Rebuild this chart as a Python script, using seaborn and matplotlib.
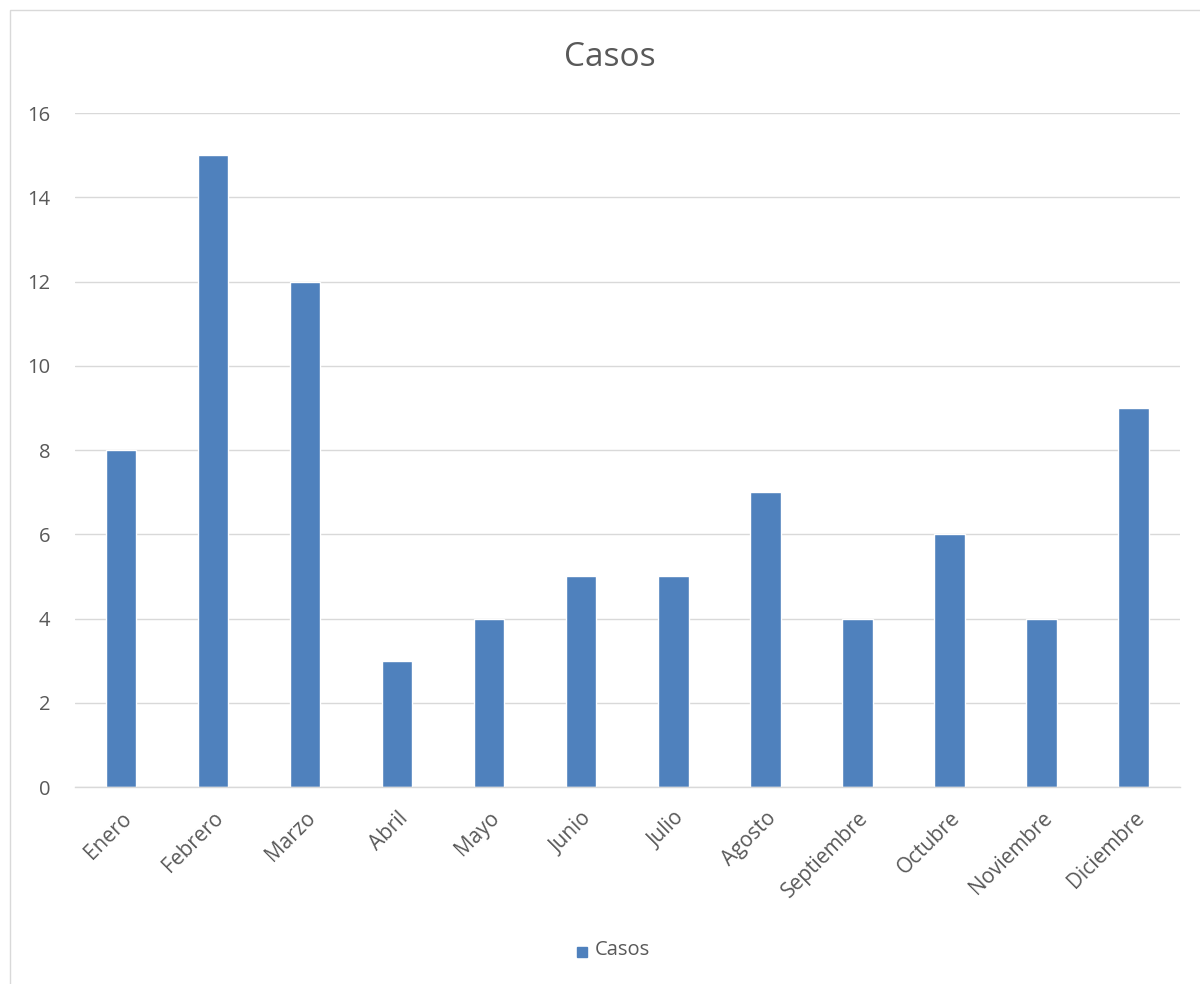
import matplotlib
matplotlib.use("Agg")
import matplotlib.pyplot as plt
import seaborn as sns
import pandas as pd
from matplotlib.patches import Rectangle

months = ["Enero", "Febrero", "Marzo", "Abril", "Mayo", "Junio", "Julio",
          "Agosto", "Septiembre", "Octubre", "Noviembre", "Diciembre"]
casos = [8, 15, 12, 3, 4, 5, 5, 7, 4, 6, 4, 9]
yticks = [0, 2, 4, 6, 8, 10, 12, 14, 16]
series_name = "Casos"

sns.set_theme(style="white")
plt.rcParams['font.family'] = ['Open Sans', 'DejaVu Sans']

df = pd.DataFrame({"Mes": months, "Casos": casos})

fig = plt.figure(figsize=(12, 9.84), dpi=100)
ax = fig.add_axes([0.0625, 0.2002, 0.9205, 0.6848])

sns.barplot(data=df, x="Mes", y="Casos", color="#4F81BD", width=0.33,
            saturation=1, ax=ax, zorder=3)

ax.set_ylim(0, 16)
ax.set_yticks(yticks)
ax.set_yticklabels([str(t) for t in yticks], fontsize=14.5, color="#595959")
ax.set_xlim(-0.5, len(months) - 0.5)
ax.set_xticks(range(len(months)))
ax.set_xticklabels(months, rotation=45, ha="right", rotation_mode="anchor",
                   fontsize=15, color="#595959")
ax.tick_params(axis="y", length=0, pad=18)
ax.tick_params(axis="x", length=0, pad=15)
ax.set_xlabel("")
ax.set_ylabel("")
ax.yaxis.grid(True, color="#D9D9D9", linewidth=1, zorder=0)
for s in ["top", "right", "left"]:
    ax.spines[s].set_visible(False)
ax.spines["bottom"].set_color("#D9D9D9")
ax.spines["bottom"].set_linewidth(1)
ax.spines["bottom"].set_zorder(4)

fig.text(0.508, 0.942, "Casos", ha="center", va="center", fontsize=24, color="#595959")

# legend
fig.patches.append(Rectangle((577 / 1200, 1 - 957 / 984), 10 / 1200, 10 / 984,
                             transform=fig.transFigure, color="#4F81BD"))
fig.text(595 / 1200, 1 - 950 / 984, series_name, ha="left", va="center",
         fontsize=14.5, color="#595959")

# chart border
fig.patches.append(Rectangle((10 / 1200, -0.01), 1.0, 1 - 10 / 984 + 0.01,
                             transform=fig.transFigure, fill=False,
                             edgecolor="#D9D9D9", linewidth=1))

fig.savefig("out.png", dpi=100)
